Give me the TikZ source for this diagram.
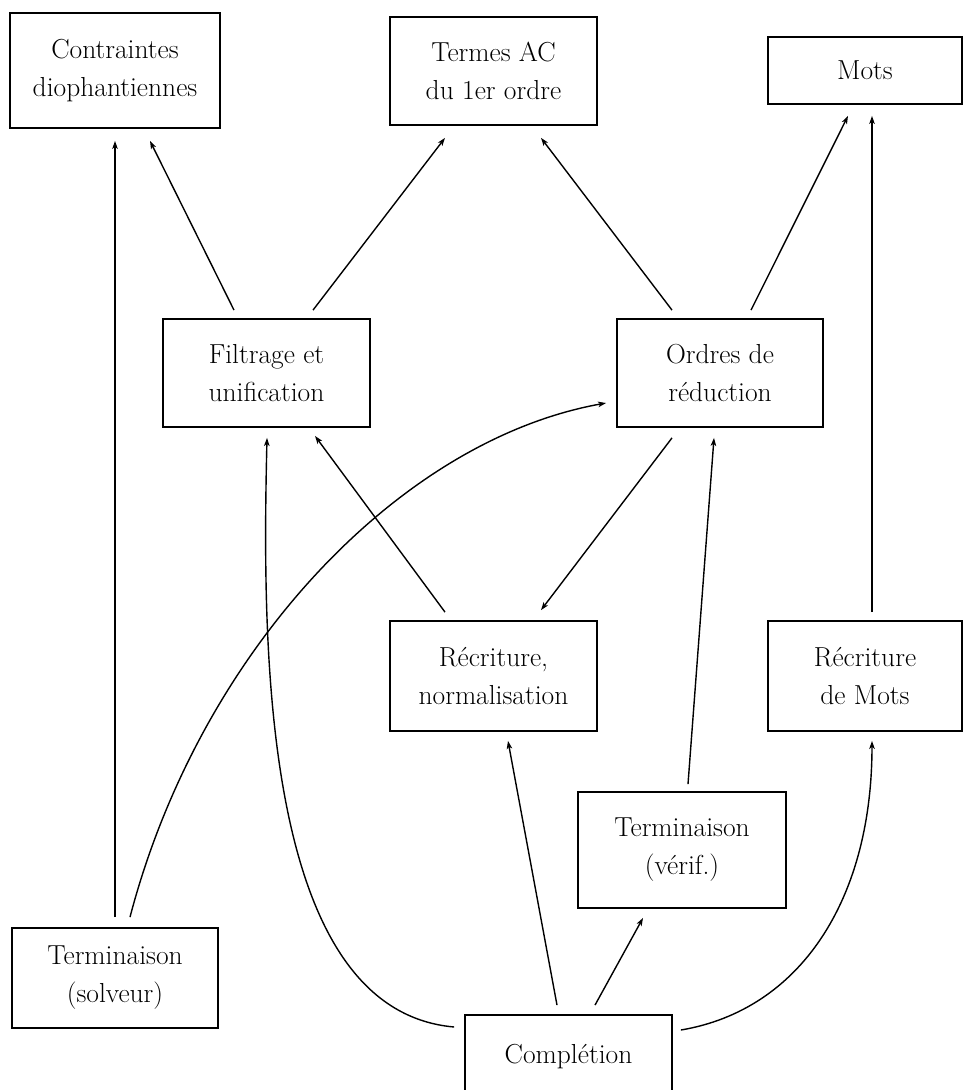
\documentclass[tikz,border=0pt]{standalone}
\usetikzlibrary{arrows.meta,shadows,calc}
\begin{document}
\begin{tikzpicture}[x=1pt,y=-1pt,
  box/.style={draw, line width=1.8pt, fill=white, align=center, inner sep=0pt,
    general shadow={fill=black, shadow xshift=0.9pt, shadow yshift=-0.9pt},
    font=\fontsize{27.5}{38}\selectfont},
  arr/.style={line width=1.4pt, -{Stealth[length=8pt,width=5.5pt,inset=2pt]}}]
\useasboundingbox (0,0) rectangle (964,1090);
\clip (0,0) rectangle (964,1090);
\node[box, minimum width=210pt, minimum height=115pt] (c) at (115,70.5) {Contraintes\\diophantiennes};
\node[box, minimum width=207pt, minimum height=108pt] (t) at (493.5,71) {Termes AC\\du 1er ordre};
\node[box, minimum width=194pt, minimum height=67pt] (m) at (865,70.5) {Mots};
\node[box, minimum width=207pt, minimum height=108pt] (f) at (266.5,373) {Filtrage et\\unification};
\node[box, minimum width=206pt, minimum height=108pt] (o) at (720,373) {Ordres de\\réduction};
\node[box, minimum width=207pt, minimum height=110pt] (r) at (493.5,676) {Récriture,\\normalisation};
\node[box, minimum width=194pt, minimum height=110pt] (rm) at (865,676) {Récriture\\de Mots};
\node[box, minimum width=208pt, minimum height=116pt] (tv) at (682,850) {Terminaison\\(vérif.)};
\node[box, minimum width=206pt, minimum height=100pt] (ts) at (115,978) {Terminaison\\(solveur)};
\node[box, minimum width=207pt, minimum height=84pt] (cp) at (568.5,1057) {\raisebox{4pt}{Complétion}};
% straight arrows
\draw[arr] ([yshift=10pt]ts.north) -- ([yshift=-12pt]c.south);
\draw[arr] ([xshift=-32.5pt,yshift=8pt]f.north) -- ([xshift=35pt,yshift=-12pt]c.south);
\draw[arr] ([xshift=46.5pt,yshift=8pt]f.north) -- ([xshift=-48.5pt,yshift=-12pt]t.south);
\draw[arr] ([xshift=-48pt,yshift=8pt]o.north) -- ([xshift=47.5pt,yshift=-12pt]t.south);
\draw[arr] ([xshift=31pt,yshift=8pt]o.north) -- ([xshift=-17pt,yshift=-11pt]m.south);
\draw[arr] ([xshift=7pt,yshift=8pt]rm.north) -- ([xshift=7pt,yshift=-11pt]m.south);
\draw[arr] ([xshift=-48.5pt,yshift=8pt]r.north) -- ([xshift=48.5pt,yshift=-8pt]f.south);
\draw[arr] ([xshift=-48pt,yshift=-10pt]o.south) -- ([xshift=47.5pt,yshift=10pt]r.north);
\draw[arr] ([xshift=6pt,yshift=7pt]tv.north) -- ([xshift=-6pt,yshift=-10pt]o.south);
\draw[arr] ([xshift=-11.5pt,yshift=9pt]cp.north) -- ([xshift=14.5pt,yshift=-9pt]r.south);
\draw[arr] ([xshift=26.5pt,yshift=9pt]cp.north) -- ([xshift=-39pt,yshift=-9pt]tv.south);
% curved arrows
\draw[arr] ([xshift=-10pt,yshift=30pt]cp.west) .. controls (262,1010) and (262,650) .. ([xshift=0.5pt,yshift=-10pt]f.south);
\draw[arr] ([xshift=8pt,yshift=27pt]cp.east) .. controls (800,1010) and (872,900) .. ([xshift=7pt,yshift=-9pt]rm.south);
\draw[arr] ([xshift=15pt,yshift=10pt]ts.north) .. controls (200,650) and (400,440) .. ([xshift=-10pt,yshift=-30pt]o.west);
\end{tikzpicture}
\end{document}
